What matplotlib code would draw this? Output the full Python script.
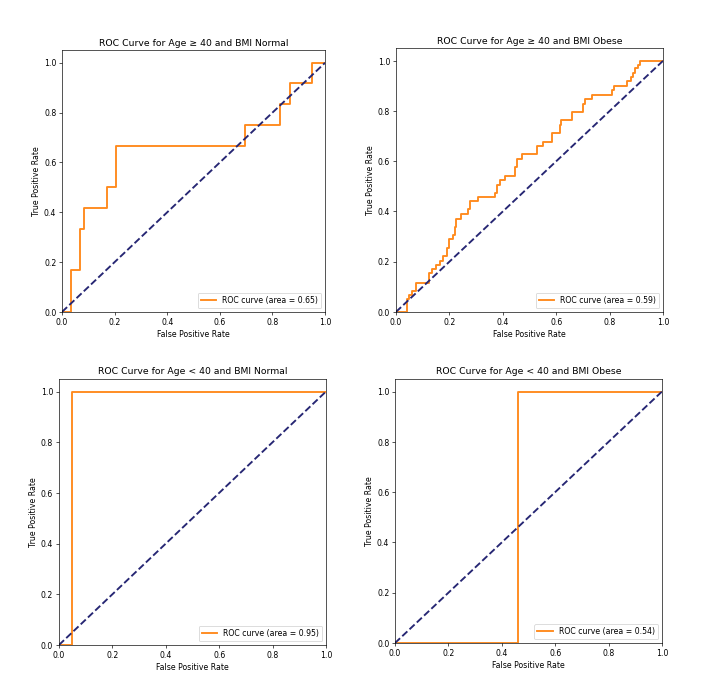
import matplotlib
matplotlib.use("Agg")
import matplotlib.pyplot as plt

### data (step corners, jump happens at each fpr)
titles = ["ROC Curve for Age \u2265 40 and BMI Normal",
          "ROC Curve for Age \u2265 40 and BMI Obese",
          "ROC Curve for Age < 40 and BMI Normal",
          "ROC Curve for Age < 40 and BMI Obese"]
aucs = [0.65, 0.59, 0.95, 0.54]

fpr_old_normal = [0, 0.034, 0.070, 0.085, 0.171, 0.206, 0.696, 0.829, 0.865, 0.949, 1.0]
tpr_old_normal = [0, 0.167, 0.333, 0.417, 0.5, 0.667, 0.75, 0.833, 0.917, 1.0, 1.0]

fpr_old_obese = [0, 0.040, 0.049, 0.059, 0.075, 0.125, 0.136, 0.149, 0.165, 0.175,
                 0.190, 0.200, 0.215, 0.221, 0.225, 0.243, 0.268, 0.278, 0.306, 0.371,
                 0.380, 0.388, 0.409, 0.444, 0.455, 0.471, 0.528, 0.549, 0.586, 0.613,
                 0.618, 0.661, 0.699, 0.709, 0.734, 0.809, 0.818, 0.865, 0.880, 0.886,
                 0.896, 0.905, 0.913, 1.0]
tpr_old_obese = [0, 0.050, 0.069, 0.084, 0.117, 0.153, 0.169, 0.186, 0.202, 0.222,
                 0.255, 0.289, 0.306, 0.339, 0.372, 0.390, 0.408, 0.441, 0.456, 0.475,
                 0.505, 0.525, 0.543, 0.578, 0.608, 0.628, 0.662, 0.678, 0.711, 0.745,
                 0.765, 0.798, 0.828, 0.848, 0.864, 0.882, 0.899, 0.918, 0.934, 0.951,
                 0.970, 0.984, 1.0, 1.0]

fpr_young_normal = [0, 0.048, 1.0]
tpr_young_normal = [0, 1.0, 1.0]

fpr_young_obese = [0, 0.462, 1.0]
tpr_young_obese = [0, 1.0, 1.0]

all_fpr = [fpr_old_normal, fpr_old_obese, fpr_young_normal, fpr_young_obese]
all_tpr = [tpr_old_normal, tpr_old_obese, tpr_young_normal, tpr_young_obese]

### axes boxes (left, bottom, width, height) in figure fractions
boxes = [(0.0876, 0.5517, 0.3715, 0.3757),
         (0.5593, 0.5517, 0.3771, 0.3786),
         (0.0833, 0.0733, 0.3771, 0.3822),
         (0.5579, 0.0761, 0.3771, 0.3793)]

plt.rcParams["font.size"] = 9.4
fig = plt.figure(figsize=(12, 11.8))

for i in range(4):
    ax = fig.add_axes(boxes[i])
    ax.step(all_fpr[i], all_tpr[i], where="post", color="#ff8a1c", lw=2.3,
            label="ROC curve (area = %0.2f)" % aucs[i])
    ax.plot([0, 1], [0, 1], color="#262673", lw=2.3, linestyle="--")
    ax.set_xlim([0.0, 1.0])
    ax.set_ylim([0.0, 1.05])
    ax.set_xlabel("False Positive Rate")
    ax.set_ylabel("True Positive Rate")
    ax.set_title(titles[i])
    ax.legend(loc="lower right")

fig.savefig("out.png", dpi=59)
